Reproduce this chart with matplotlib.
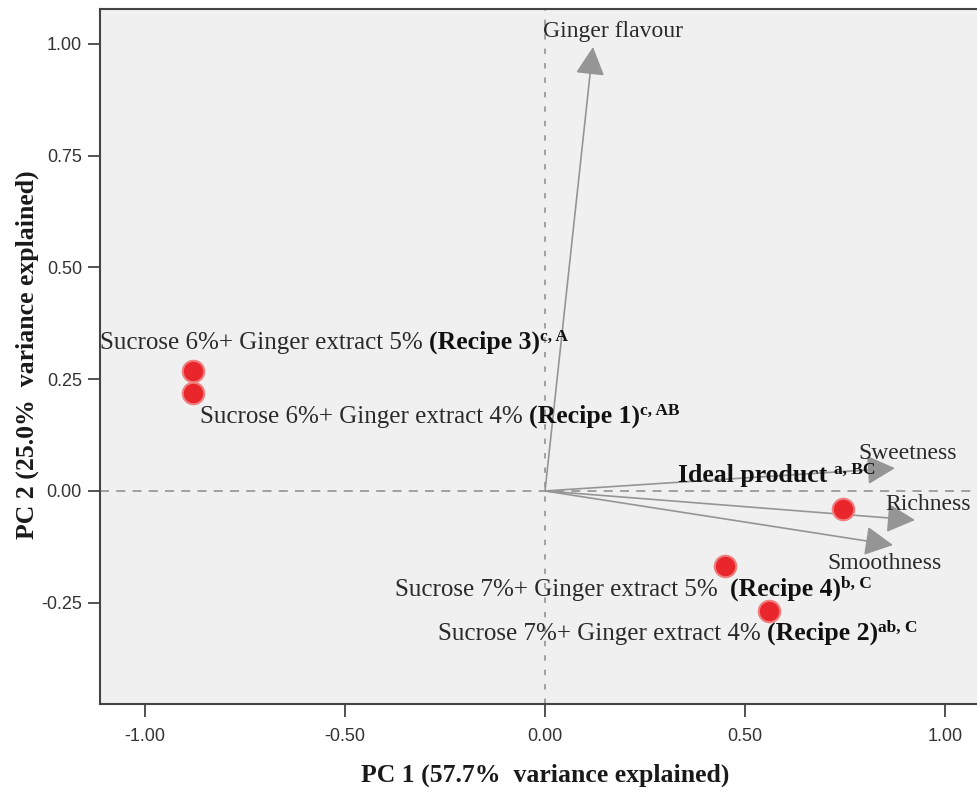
import matplotlib
matplotlib.use("Agg")
import matplotlib.pyplot as plt

# sample scores (PC1, PC2)
samples = ["Recipe 3", "Recipe 1", "Ideal product", "Recipe 4", "Recipe 2"]
pc1 = [-0.88, -0.88, 0.745, 0.45, 0.56]
pc2 = [0.268, 0.22, -0.04, -0.168, -0.268]
sample_desc = ["Sucrose 6%+ Ginger extract 5% ", "Sucrose 6%+ Ginger extract 4% ", "",
               "Sucrose 7%+ Ginger extract 5%  ", "Sucrose 7%+ Ginger extract 4% "]
sample_bold = ["(Recipe 3)", "(Recipe 1)", "Ideal product ", "(Recipe 4)", "(Recipe 2)"]
sample_sup = ["c, A", "c, AB", "a, BC", "b, C", "ab, C"]

# attribute loadings
attributes = ["Ginger flavour", "Sweetness", "Richness", "Smoothness"]
load_x = [0.12, 0.875, 0.925, 0.87]
load_y = [0.993, 0.051, -0.065, -0.121]

serif = "Liberation Serif"
tick_font = ["Liberation Sans Narrow", "Liberation Sans", "DejaVu Sans"]

fig = plt.figure(figsize=(9.78, 7.87), dpi=100)
ax = fig.add_axes([100 / 978, 83 / 787, 878 / 978, 695 / 787])
ax.set_facecolor("#f0f0f0")

ax.set_xlim(-1.1125, 1.0825)
ax.set_ylim(-0.4765, 1.078)

# reference lines
ax.axhline(0, color="#9a9a9a", lw=1.3, ls=(0, (5, 4)), zorder=1)
ax.axvline(0, color="#9a9a9a", lw=1.3, ls=(0, (3, 5)), zorder=1)

# loading arrows
for name, lx, ly in zip(attributes, load_x, load_y):
    ax.annotate("", xy=(lx, ly), xytext=(0, 0),
                arrowprops=dict(arrowstyle="-|>,head_length=1.35,head_width=0.7",
                                mutation_scale=13, color="#959595", lw=1.2,
                                shrinkA=0, shrinkB=0), zorder=2)

# attribute labels (offset in pixels from arrow tip)
attr_offsets = [(-50, 16), (-37, 15), (-30, 16), (-66, -18)]
for name, lx, ly, off in zip(attributes, load_x, load_y, attr_offsets):
    ax.annotate(name, xy=(lx, ly), xytext=off, textcoords="offset pixels",
                ha="left", va="center", fontsize=17, family=serif,
                color="#2a2a2a", zorder=4)

# sample points
ax.scatter(pc1, pc2, s=240, color="#e8262b", edgecolors="#f08080",
           linewidths=1.5, zorder=3)

# sample labels: regular + bold + superscript
label_offsets = [(-93, 28), (7, -24), (-165, 22), (-330, -24), (-331, -23)]
for x, y, desc, bold, sup, off in zip(pc1, pc2, sample_desc, sample_bold,
                                      sample_sup, label_offsets):
    t = ax.annotate(desc, xy=(x, y), xytext=off, textcoords="offset pixels",
                    ha="left", va="center", fontsize=18, family=serif,
                    color="#2a2a2a", zorder=4)
    b = ax.annotate(bold, xycoords=t, xy=(1, 0), ha="left", va="bottom",
                    fontsize=18.5, family=serif, fontweight="bold",
                    color="#111111", zorder=4)
    ax.annotate(sup, xycoords=b, xy=(1, 0.38), ha="left", va="bottom",
                fontsize=12.5, family=serif, fontweight="bold",
                color="#111111", zorder=4)

# axes styling
ax.set_xticks([-1.0, -0.5, 0.0, 0.5, 1.0])
ax.set_yticks([-0.25, 0.0, 0.25, 0.5, 0.75, 1.0])
ax.set_xticklabels(["%.2f" % v for v in ax.get_xticks()])
ax.set_yticklabels(["%.2f" % v for v in ax.get_yticks()])
ax.tick_params(direction="out", length=9, width=1.3, color="#444444",
               labelcolor="#333333", labelsize=13, pad=4)
for lab in ax.get_xticklabels() + ax.get_yticklabels():
    lab.set_family(tick_font)
ax.tick_params(axis="x", pad=8)

for side in ["left", "bottom", "top"]:
    ax.spines[side].set_color("#444444")
    ax.spines[side].set_linewidth(1.5)
ax.spines["right"].set_visible(False)

ax.set_xlabel("PC 1 (57.7%  variance explained)", family=serif,
              fontweight="bold", fontsize=18.5, color="#1a1a1a")
ax.xaxis.set_label_coords((545 - 100) / 878, -0.086)
ax.set_ylabel("PC 2 (25.0%  variance explained)", family=serif,
              fontweight="bold", fontsize=18.5, color="#1a1a1a")
ax.yaxis.set_label_coords(-0.07, (787 - 83 - 355) / 695)

plt.savefig("out.png", dpi=100)
